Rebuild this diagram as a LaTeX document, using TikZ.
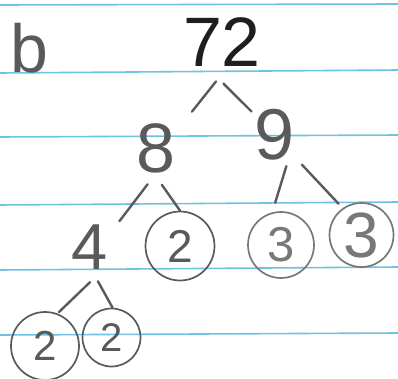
\documentclass[tikz,border=0pt]{standalone}
\usepackage{fontspec}
\setmainfont{Liberation Sans}
\definecolor{rule}{RGB}{110,195,228}
\definecolor{ink}{RGB}{30,30,30}
\definecolor{pencil}{RGB}{90,90,90}
\definecolor{pencillight}{RGB}{120,120,120}
\tikzset{
  digit/.style={circle, inner sep=0pt, text=pencil},
  ring/.style={digit, draw=pencil, line width=1.7pt},
  ringlight/.style={digit, draw=pencillight, text=pencillight, line width=1.7pt},
  branch/.style={draw=pencil, line width=2.4pt, line cap=round},
  ruled/.style={draw=rule, line width=1.6pt},
}
\newcommand{\fs}[1]{\fontsize{#1}{#1}\selectfont}
\begin{document}
\begin{tikzpicture}[x=1pt,y=-1pt]
\useasboundingbox (0,0) rectangle (398,379);
\fill[white] (0,0) rectangle (398,379);
% ruled lines of the paper
\draw[ruled] (0,5) -- (398,4);
\draw[ruled] (0,73) -- (398,70);
\draw[ruled] (0,137) -- (398,135);
\draw[ruled] (0,205) -- (398,202);
\draw[ruled] (0,270) -- (398,267);
\draw[ruled] (0,335) -- (398,333);
% nodes
\node[digit] (b) at (29,48) {\fs{68}b};
\node[digit, text=ink] (n72) at (222,42) {\fs{70}72};
\node[digit, minimum size=74pt] (n8) at (156,148) {\fs{70}8};
\node[digit, minimum size=66pt] (n9) at (275,135) {\fs{72}9};
\node[digit, minimum size=70pt] (n4) at (90,247) {\fs{65}4};
\node[ring, minimum size=69pt] (c2a) at (180,246) {\fs{46}2};
\node[ringlight, minimum size=66pt] (c3a) at (281,245) {\fs{49}3};
\node[ringlight, minimum size=64pt] (c3b) at (361.5,235) {\fs{64}3};
\node[ring, minimum size=68pt] (c2b) at (45,346) {\fs{42}2};
\node[ring, minimum size=58pt] (c2c) at (111.5,337.5) {\fs{40}2};
% branches
\draw[branch, shorten <=-7pt, shorten >=14pt] (n72.257) -- (n8.43);
\draw[branch, shorten <=-6pt] (n72.277) -- (n9.135);
\draw[branch, shorten >=4pt] (n8.257) -- (n4.40);
\draw[branch] (n8.279) -- (c2a.90);
\draw[branch, shorten >=10pt] (n9.290) -- (c3a.105);
\draw[branch, shorten <=7pt, shorten >=6pt] (n9.312) -- (c3b.125);
\draw[branch, shorten >=2pt] (n4.270) -- (c2b.69);
\draw[branch] (n4.283) -- (c2c.88);
\end{tikzpicture}
\end{document}
